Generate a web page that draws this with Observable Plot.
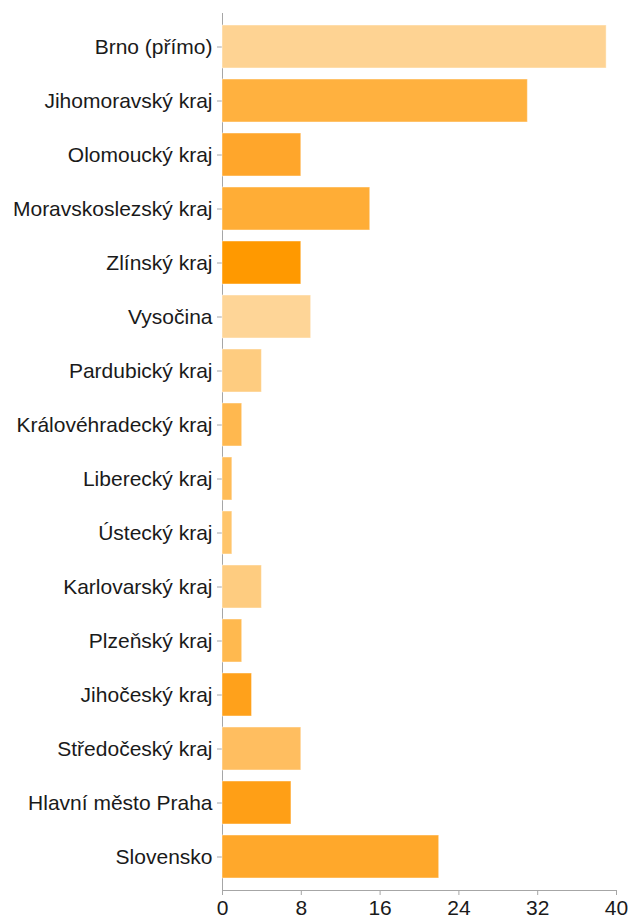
<!DOCTYPE html>
<html>
<head>
<meta charset="utf-8">
<script src="https://cdn.jsdelivr.net/npm/d3@7"></script>
<script src="https://cdn.jsdelivr.net/npm/@observablehq/plot@0.6"></script>
<style>
  html, body { margin: 0; padding: 0; background: #fff; }
  #chart svg g[aria-label$="tick label"] { fill: #1a1a1a; }
</style>
</head>
<body>
<div id="chart"></div>
<script>
const categories = [
  "Brno (přímo)", "Jihomoravský kraj", "Olomoucký kraj", "Moravskoslezský kraj",
  "Zlínský kraj", "Vysočina", "Pardubický kraj", "Královéhradecký kraj",
  "Liberecký kraj", "Ústecký kraj", "Karlovarský kraj", "Plzeňský kraj",
  "Jihočeský kraj", "Středočeský kraj", "Hlavní město Praha", "Slovensko"
];
const values = [39, 31, 8, 15, 8, 9, 4, 2, 1, 1, 4, 2, 3, 8, 7, 22];
const colors = [
  "#fed393", "#ffb13f", "#ffa62b", "#ffad36", "#ff9900", "#fed597", "#fecc80", "#ffb84f",
  "#ffbc58", "#ffc56b", "#fecc80", "#ffb94f", "#ffa11b", "#ffbe60", "#ff9f16", "#ffa82b"
];
const xTicks = [0, 8, 16, 24, 32, 40];

const data = categories.map((c, i) => ({category: c, value: values[i], color: colors[i]}));

const chart = Plot.plot({
  width: 630,
  height: 918,
  marginLeft: 222,
  marginRight: 14,
  marginTop: 13,
  marginBottom: 28,
  style: {fontFamily: "'Liberation Sans', Arial, Helvetica, sans-serif", fontSize: "21px", color: "#a6a6a6", background: "#fff"},
  x: {domain: [0, 40], ticks: xTicks, tickSize: 5, tickPadding: 5, line: true, label: null},
  y: {domain: categories, paddingInner: 0.2, paddingOuter: 0.12, tickSize: 5, tickPadding: 5, line: true, label: null},
  marks: [
    Plot.barX(data, {x: "value", y: "category", fill: d => d.color, stroke: "#fff", strokeOpacity: 0.45, strokeWidth: 1})
  ]
});
document.getElementById("chart").appendChild(chart);
</script>
</body>
</html>
